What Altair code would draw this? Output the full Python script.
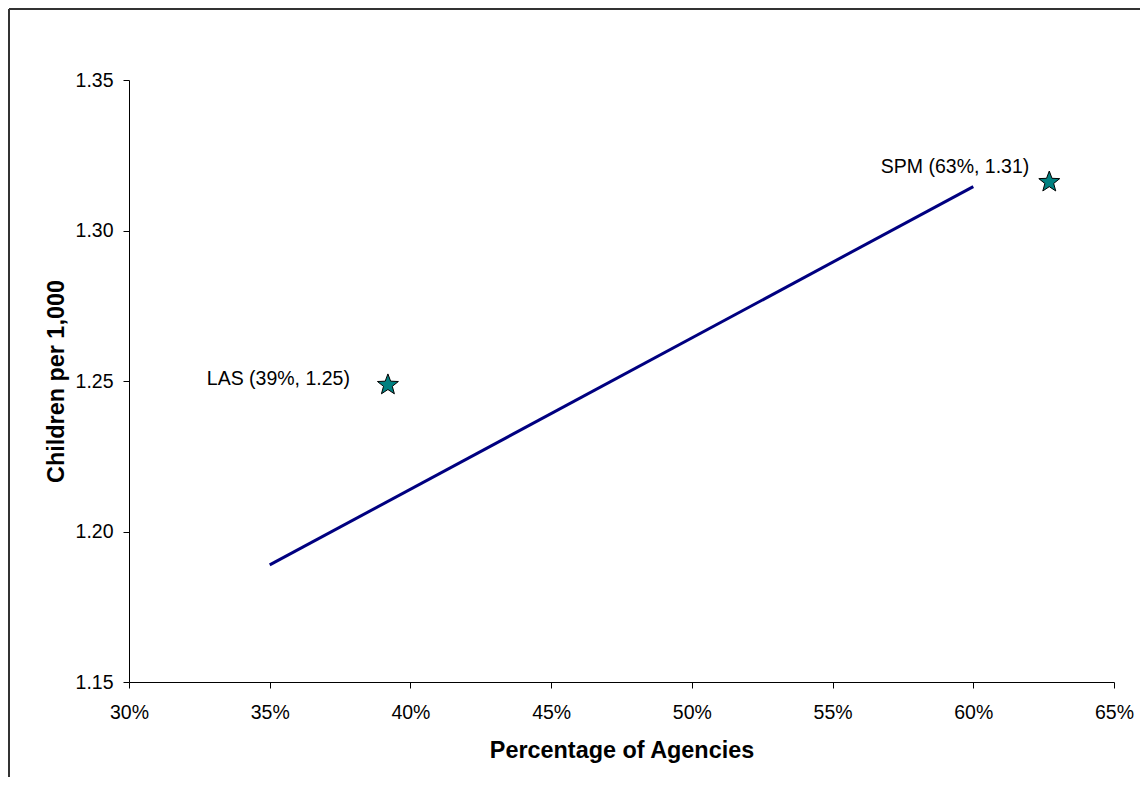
import altair as alt
import pandas as pd

# ---- data ----
agencies = ["LAS", "SPM"]
pct_agencies = [0.392, 0.627]
children_per_1000 = [1.2487, 1.3161]
point_labels = ["LAS (39%, 1.25)", "SPM (63%, 1.31)"]

trend_x = [0.35, 0.60]
trend_y = [1.1889, 1.3146]

x_ticks = [0.30, 0.35, 0.40, 0.45, 0.50, 0.55, 0.60, 0.65]
y_ticks = [1.15, 1.20, 1.25, 1.30, 1.35]

pts = pd.DataFrame({"agency": agencies, "pct": pct_agencies,
                    "children": children_per_1000, "label": point_labels})
trend = pd.DataFrame({"pct": trend_x, "children": trend_y})

W, H = 985, 602
FONT = "Liberation Sans"

STAR = ("M0,-1 L0.2469,-0.3398 L0.9511,-0.309 L0.3994,0.1298 L0.5878,0.809 "
        "L0,0.42 L-0.5878,0.809 L-0.3994,0.1298 L-0.9511,-0.309 L-0.2469,-0.3398 Z")

xscale = alt.Scale(domain=[0.30, 0.65], nice=False, zero=False)
yscale = alt.Scale(domain=[1.15, 1.35], nice=False, zero=False)

xaxis = alt.Axis(values=x_ticks, format=".0%", title="Percentage of Agencies",
                 titleY=75, titleBaseline="alphabetic", labelFlush=False)
yaxis = alt.Axis(values=y_ticks, format=".2f", title="Children per 1,000",
                 titleX=-66, titleY=H / 2, titleBaseline="alphabetic",
                 titleAngle=-90, titleAlign="center", labelFlush=False)

line = alt.Chart(trend).mark_line(color="#000080", strokeWidth=3).encode(
    x=alt.X("pct:Q", scale=xscale, axis=xaxis),
    y=alt.Y("children:Q", scale=yscale, axis=yaxis),
)

stars = alt.Chart(pts).mark_point(
    shape=STAR, size=484, filled=True, fill="#008080", fillOpacity=1,
    stroke="black", strokeWidth=1, opacity=1,
).encode(
    x=alt.X("pct:Q", scale=xscale),
    y=alt.Y("children:Q", scale=yscale),
)

lbl_las = alt.Chart(pts).transform_filter(alt.datum.agency == "LAS").mark_text(
    align="right", baseline="alphabetic", dx=-38, dy=0,
    font=FONT, fontSize=19.5, color="black",
).encode(x=alt.X("pct:Q", scale=xscale), y=alt.Y("children:Q", scale=yscale),
         text="label:N")

lbl_spm = alt.Chart(pts).transform_filter(alt.datum.agency == "SPM").mark_text(
    align="right", baseline="alphabetic", dx=-20, dy=-9,
    font=FONT, fontSize=19.5, color="black",
).encode(x=alt.X("pct:Q", scale=xscale), y=alt.Y("children:Q", scale=yscale),
         text="label:N")

frame_top = alt.Chart(pts).mark_rule(color="#333333", strokeWidth=2).encode(
    x=alt.value(-120), x2=alt.value(W + 26), y=alt.value(-71))
frame_left = alt.Chart(pts).mark_rule(color="#333333", strokeWidth=2).encode(
    x=alt.value(-120), y=alt.value(-71), y2=alt.value(H + 95))

chart = alt.layer(frame_top, frame_left, line, stars, lbl_las, lbl_spm).properties(
    width=W, height=H,
    autosize=alt.AutoSizeParams(type="none"),
    padding={"left": 121, "top": 72, "right": 26, "bottom": 95},
    background="white",
).configure_view(stroke=None).configure_axis(
    grid=False,
    domainColor="black", domainWidth=1,
    tickColor="black", tickSize=6, tickWidth=1,
    labelFont=FONT, labelFontSize=19.5, labelColor="black",
    labelPadding=10,
    titleFont=FONT, titleFontSize=23.4, titleFontWeight="bold", titleColor="black",
).configure_axisX(labelPadding=15)

chart.save("out.html", embed_options={"renderer": "svg", "actions": False})
